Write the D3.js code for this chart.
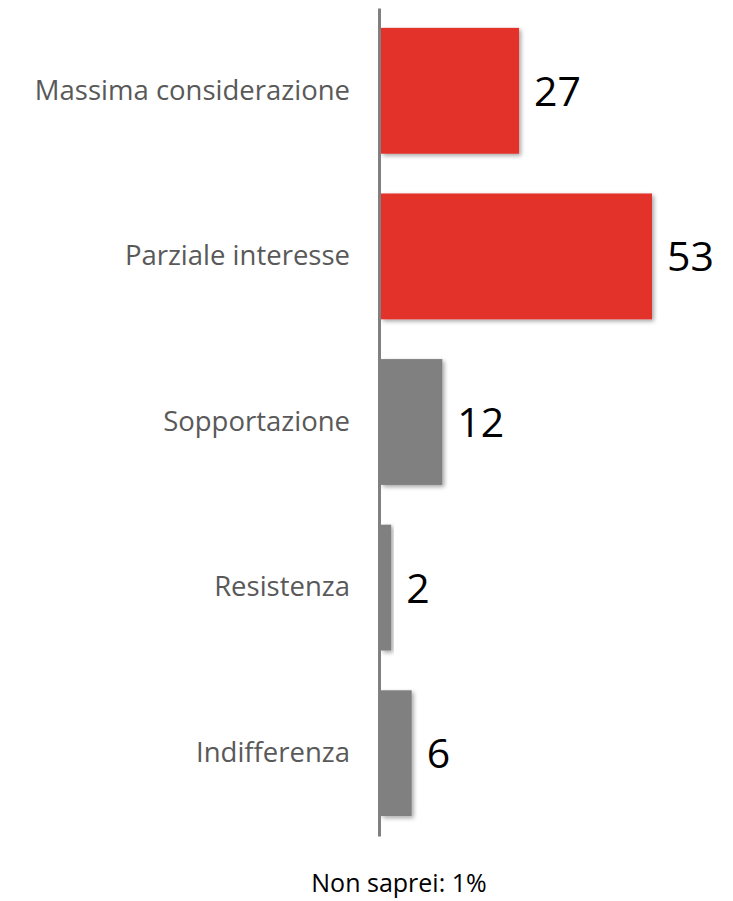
<!DOCTYPE html>
<html>
<head>
<meta charset="utf-8">
<script src="https://cdn.jsdelivr.net/npm/d3@7"></script>
<style>
  body { margin: 0; background: #ffffff; }
  svg { display: block; }
</style>
</head>
<body>
<script>
// categories and values (percent)
var categories = ["Massima considerazione", "Parziale interesse", "Sopportazione", "Resistenza", "Indifferenza"];
var values = [27, 53, 12, 2, 6];
var barColors = ["#e3302a", "#e3302a", "#808080", "#808080", "#808080"];
var footNote = "Non saprei: 1%";

var width = 733, height = 901;
var axisX = 379;

var svg = d3.select("body").append("svg")
    .attr("width", width)
    .attr("height", height);

var defs = svg.append("defs");
var shadow = defs.append("filter")
    .attr("id", "shadow")
    .attr("x", "-10%").attr("y", "-10%")
    .attr("width", "130%").attr("height", "130%");
shadow.append("feDropShadow")
    .attr("dx", 2).attr("dy", 2)
    .attr("stdDeviation", 2)
    .attr("flood-color", "#000")
    .attr("flood-opacity", 0.35);

var y = d3.scaleBand()
    .domain(categories)
    .range([8, 836])
    .paddingInner(0.24)
    .paddingOuter(0.12);

var x = d3.scaleLinear()
    .domain([0, 53])
    .range([axisX + 2, 652]);

var rows = categories.map(function(c, i) { return { cat: c, val: values[i], color: barColors[i] }; });

svg.selectAll("rect.bar")
    .data(rows)
    .enter().append("rect")
    .attr("class", "bar")
    .attr("x", x(0))
    .attr("y", function(d) { return y(d.cat); })
    .attr("width", function(d) { return x(d.val) - x(0); })
    .attr("height", y.bandwidth())
    .attr("fill", function(d) { return d.color; })
    .attr("filter", "url(#shadow)");

// vertical axis line with category labels
var yAxis = d3.axisLeft(y).tickSize(0).tickPadding(29);
var gAxis = svg.append("g")
    .attr("transform", "translate(" + axisX + ",0)")
    .call(yAxis);
gAxis.select(".domain")
    .attr("stroke", "#808080")
    .attr("stroke-width", 3);
gAxis.selectAll("text")
    .attr("fill", "#595959")
    .style("font-family", "'Open Sans', sans-serif")
    .style("font-size", "27.5px");

// value labels
svg.selectAll("text.val")
    .data(rows)
    .enter().append("text")
    .attr("class", "val")
    .attr("x", function(d) { return x(d.val) + 15; })
    .attr("y", function(d) { return y(d.cat) + y.bandwidth() / 2 + 15; })
    .attr("fill", "#000")
    .style("font-family", "'Open Sans', sans-serif")
    .style("font-size", "41px")
    .text(function(d) { return d.val; });

svg.append("text")
    .attr("x", 399)
    .attr("y", 892)
    .attr("text-anchor", "middle")
    .attr("fill", "#000")
    .style("font-family", "'Open Sans', sans-serif")
    .style("font-size", "25px")
    .text(footNote);
</script>
</body>
</html>
